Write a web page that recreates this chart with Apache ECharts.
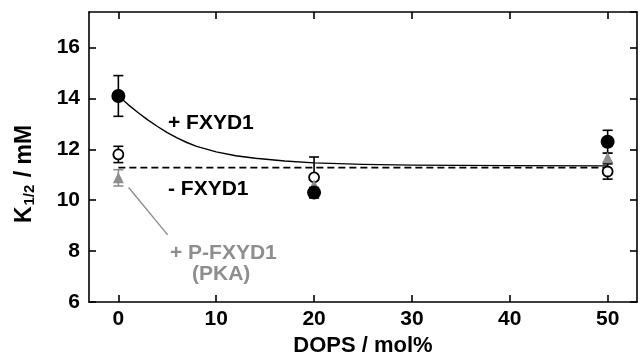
<!DOCTYPE html>
<html>
<head>
<meta charset="utf-8">
<script src="https://cdn.jsdelivr.net/npm/echarts@6/dist/echarts.min.js"></script>
<style>
  html, body { margin: 0; padding: 0; background: #fff; }
  #chart { width: 641px; height: 357px; }
</style>
</head>
<body>
<div id="chart"></div>
<script>
// DOPS content (mol%)
const dops = [0, 20, 50];
// K1/2 values (mM) and error half-widths
const withFxyd1 = [14.1, 10.3, 12.3];
const withFxyd1Err = [0.8, 0.2, 0.45];
const withoutFxyd1 = [11.8, 10.9, 11.13];
const withoutFxyd1Err = [0.32, 0.8, 0.3];
const pFxyd1 = [10.88, 10.6, 11.68];
const pFxyd1Err = [0.32, 0.2, 0.19];

// fitted curve (+FXYD1)
const fitX = [0, 1, 2, 3, 4, 5, 6, 7, 8, 10, 12, 14, 17, 20, 25, 30, 40, 50];
const fitY = [14.1, 13.76, 13.45, 13.16, 12.9, 12.66, 12.45, 12.27, 12.12, 11.9, 11.75, 11.65, 11.54, 11.47, 11.41, 11.38, 11.36, 11.35];
// mean level (-FXYD1)
const meanX = [0, 50];
const meanY = [11.28, 11.28];
// leader line for the P-FXYD1 label
const leaderX = [1.05, 5.04];
const leaderY = [10.5, 8.64];

const xTicks = [0, 10, 20, 30, 40, 50];
const GRAY = '#8e8e8e';
const FONT = 'Liberation Sans, Arial, sans-serif';

const zip3 = (xs, ys, es) => xs.map((x, i) => [x, ys[i], es[i]]);
const zip2 = (xs, ys) => xs.map((x, i) => [x, ys[i]]);

function errorBars(color) {
  return function (params, api) {
    const x = api.value(0), y = api.value(1), e = api.value(2);
    const hi = api.coord([x, y + e]);
    const lo = api.coord([x, y - e]);
    const w = 5;
    const style = { stroke: color, lineWidth: 1.6 };
    return {
      type: 'group',
      children: [
        { type: 'line', shape: { x1: hi[0], y1: hi[1], x2: lo[0], y2: lo[1] }, style },
        { type: 'line', shape: { x1: hi[0] - w, y1: hi[1], x2: hi[0] + w, y2: hi[1] }, style },
        { type: 'line', shape: { x1: lo[0] - w, y1: lo[1], x2: lo[0] + w, y2: lo[1] }, style }
      ]
    };
  };
}

const axisLineStyle = { color: '#000', width: 1.6 };
const labelStyle = { color: '#000', fontFamily: FONT, fontWeight: 'bold', fontSize: 21 };

const chart = echarts.init(document.getElementById('chart'));

chart.setOption({
  animation: false,
  grid: { left: 89, right: 4, top: 12, bottom: 55, outerBoundsMode: 'none' },
  xAxis: [
    {
      type: 'value', min: -3, max: 53,
      axisLine: { onZero: false, lineStyle: axisLineStyle },
      axisTick: { inside: true, length: 7, lineStyle: axisLineStyle, customValues: xTicks },
      axisLabel: Object.assign({ margin: 7, customValues: xTicks }, labelStyle),
      splitLine: { show: false },
      name: 'DOPS / mol%', nameLocation: 'middle', nameGap: 27,
      nameTextStyle: { color: '#000', fontFamily: FONT, fontWeight: 'bold', fontSize: 22 }
    },
    {
      type: 'value', min: -3, max: 53, position: 'top',
      axisLine: { onZero: false, lineStyle: axisLineStyle },
      axisTick: { inside: true, length: 7, lineStyle: axisLineStyle, customValues: xTicks },
      axisLabel: { show: false },
      splitLine: { show: false }
    }
  ],
  yAxis: [
    {
      type: 'value', min: 6, max: 17.4, interval: 2,
      axisLine: { show: true, onZero: false, lineStyle: axisLineStyle },
      axisTick: { show: true, inside: true, length: 7, lineStyle: axisLineStyle },
      axisLabel: Object.assign({ margin: 9, showMaxLabel: false }, labelStyle),
      splitLine: { show: false }
    },
    {
      type: 'value', min: 6, max: 17.4, interval: 2, position: 'right',
      axisLine: { show: true, onZero: false, lineStyle: axisLineStyle },
      axisTick: { show: true, inside: true, length: 7, lineStyle: axisLineStyle },
      axisLabel: { show: false },
      splitLine: { show: false }
    }
  ],
  series: [
    {
      type: 'line', data: zip2(fitX, fitY), smooth: false, showSymbol: false,
      lineStyle: { color: '#000', width: 1.4, join: 'round' }, z: 1
    },
    {
      type: 'line', data: zip2(meanX, meanY), showSymbol: false,
      lineStyle: { color: '#000', width: 1.8, type: [7, 4] }, z: 1
    },
    {
      type: 'line', data: zip2(leaderX, leaderY), showSymbol: false,
      lineStyle: { color: GRAY, width: 1.4 }, z: 1
    },
    { type: 'custom', data: zip3(dops, withoutFxyd1, withoutFxyd1Err), renderItem: errorBars('#000'), z: 2 },
    { type: 'custom', data: zip3(dops, pFxyd1, pFxyd1Err), renderItem: errorBars(GRAY), z: 2 },
    { type: 'custom', data: zip3(dops, withFxyd1, withFxyd1Err), renderItem: errorBars('#000'), z: 2 },
    {
      type: 'scatter', data: zip2(dops, withoutFxyd1), symbol: 'circle', symbolSize: 10,
      itemStyle: { color: '#fff', borderColor: '#000', borderWidth: 1.8, opacity: 1 }, z: 3
    },
    {
      type: 'scatter', data: zip2(dops, pFxyd1), symbol: 'triangle', symbolSize: 11,
      itemStyle: { color: GRAY, opacity: 1 }, z: 4
    },
    {
      type: 'scatter', data: zip2(dops, withFxyd1), symbol: 'circle', symbolSize: 14,
      itemStyle: { color: '#000', opacity: 1 }, z: 5
    }
  ],
  graphic: [
    {
      type: 'text', x: 25, y: 174, rotation: Math.PI / 2,
      style: {
        text: '{k|K}{s|1/2}{k| / mM}',
        align: 'center', verticalAlign: 'middle',
        rich: {
          k: { fontFamily: FONT, fontWeight: 'bold', fontSize: 23, fill: '#000' },
          s: { fontFamily: FONT, fontWeight: 'bold', fontSize: 15, fill: '#000', padding: [10, 1, 0, 1] }
        }
      }
    },
    {
      type: 'text', left: 168, top: 113,
      style: { text: '+ FXYD1', fontFamily: FONT, fontWeight: 'bold', fontSize: 21, fill: '#000' }
    },
    {
      type: 'text', left: 168, top: 179,
      style: { text: '- FXYD1', fontFamily: FONT, fontWeight: 'bold', fontSize: 21, fill: '#000' }
    },
    {
      type: 'text', left: 170, top: 243,
      style: { text: '+ P-FXYD1', fontFamily: FONT, fontWeight: 'bold', fontSize: 21, fill: GRAY }
    },
    {
      type: 'text', left: 192, top: 264,
      style: { text: '(PKA)', fontFamily: FONT, fontWeight: 'bold', fontSize: 21, fill: GRAY }
    }
  ]
});
</script>
</body>
</html>
